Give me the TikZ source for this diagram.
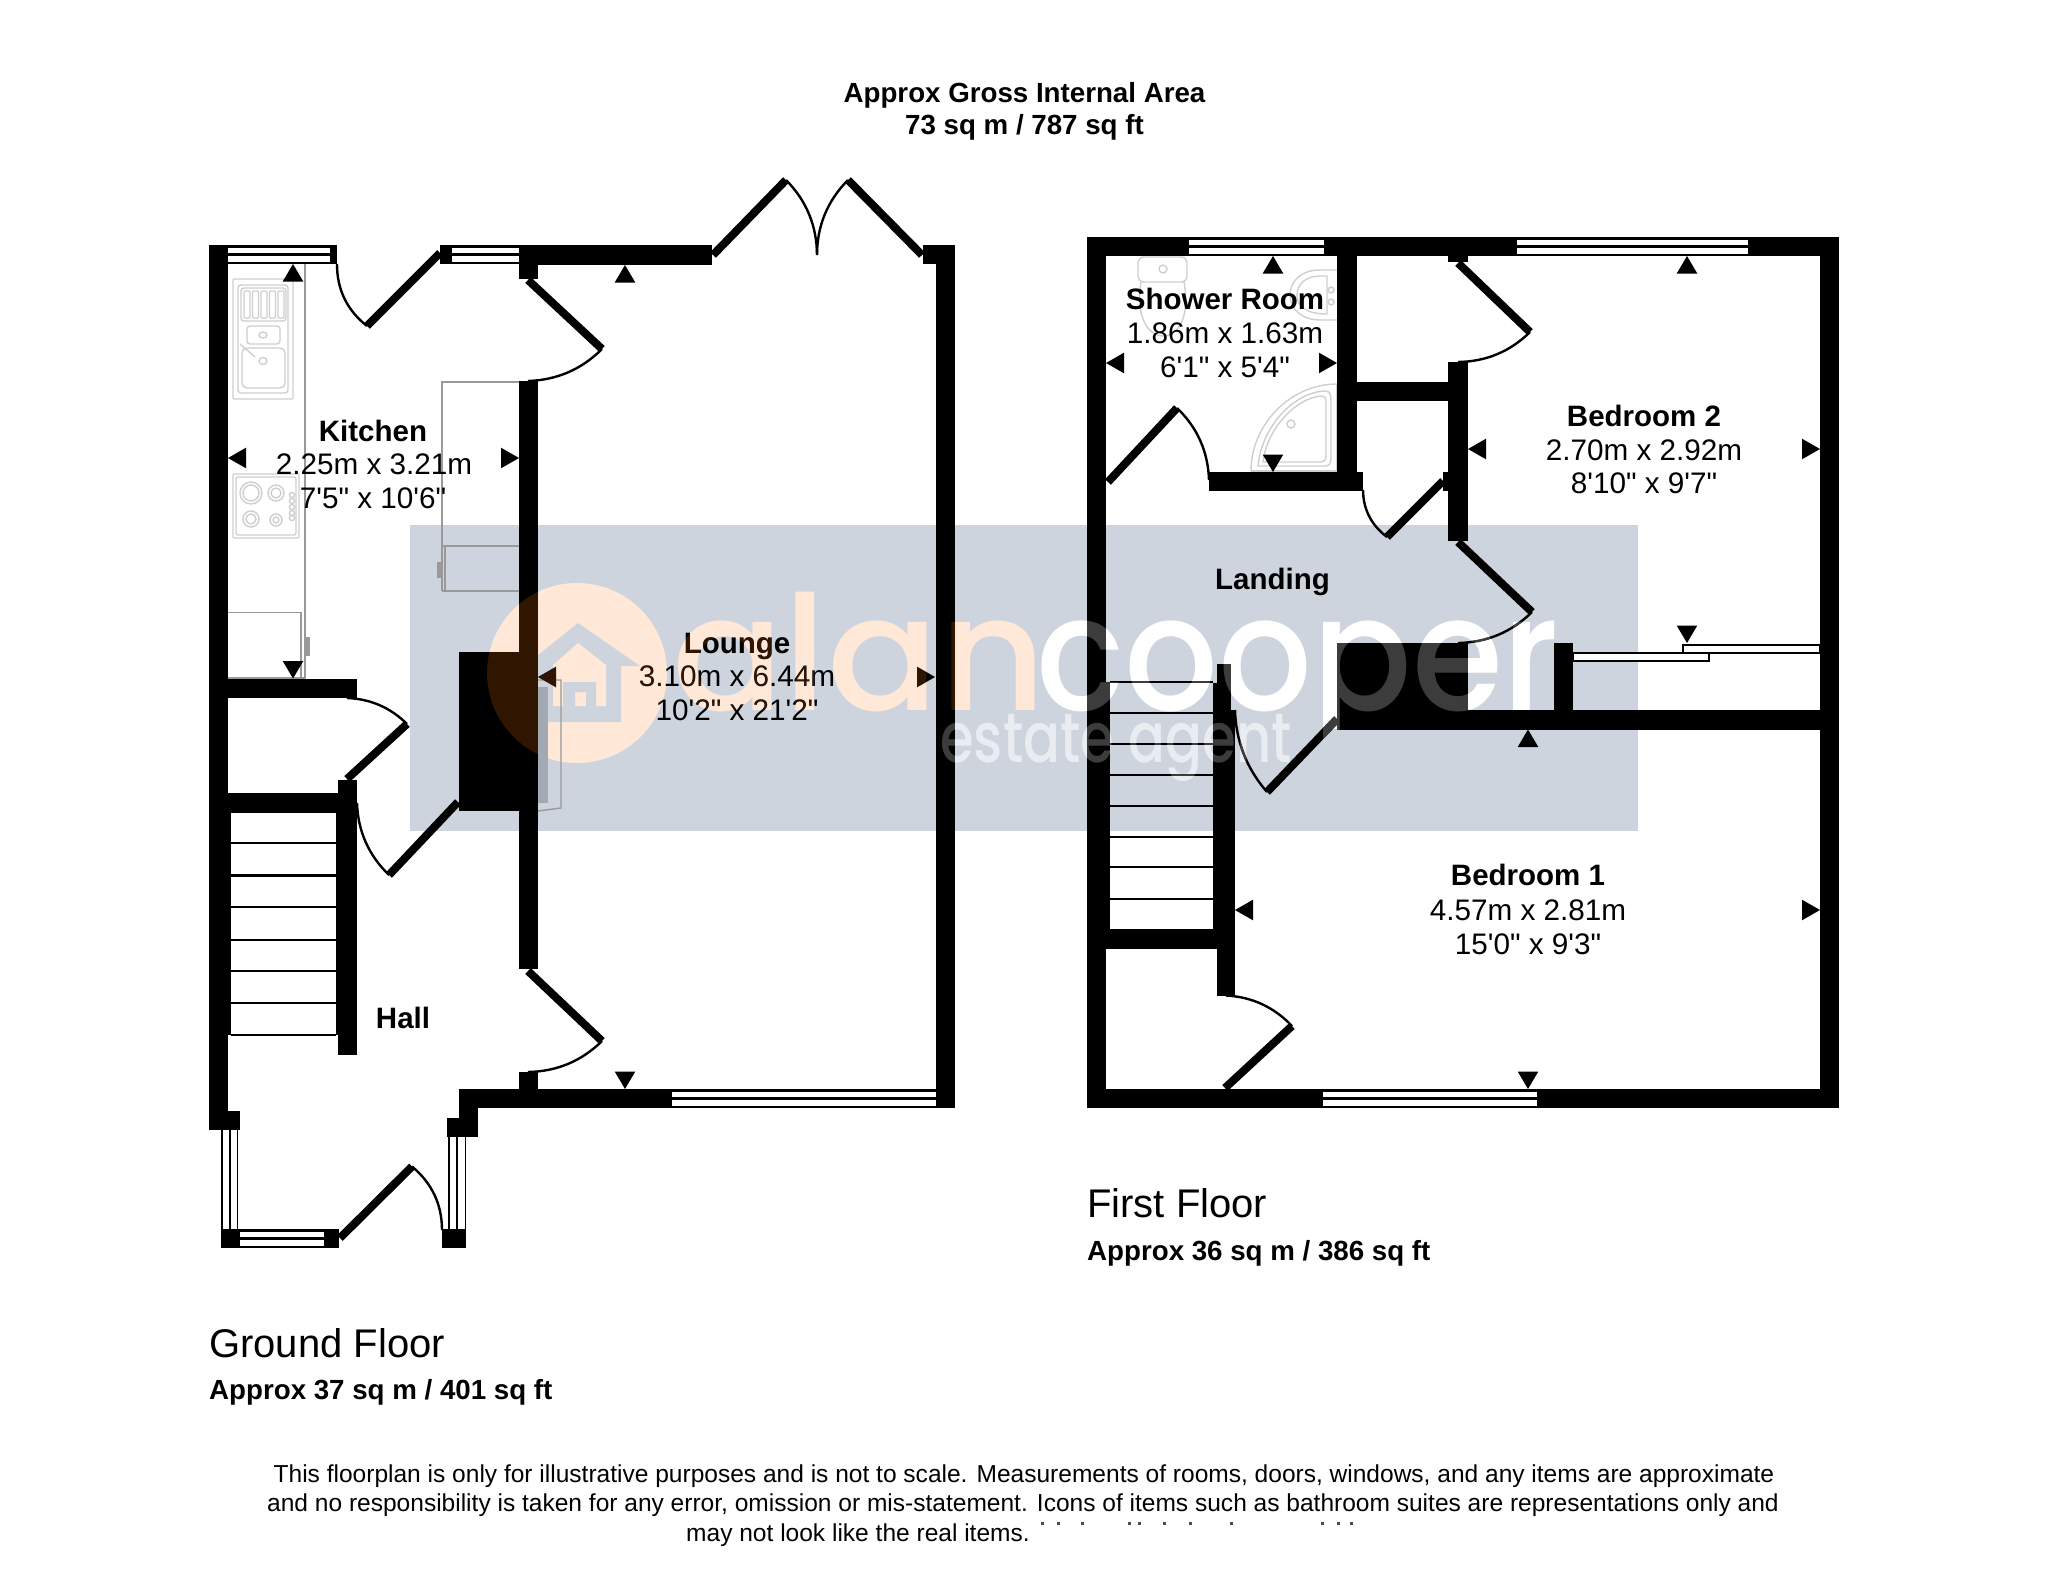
\documentclass[tikz,border=0pt]{standalone}
\usepackage{fontspec}
\usetikzlibrary{calc}
\newfontfamily\lib{Liberation Sans}
\newfontfamily\wmfont{Poppins Medium}
\definecolor{wmblue}{HTML}{CDD4DD}
\definecolor{wmorange}{HTML}{FFE8D7}
\definecolor{wmbrown}{HTML}{301500}
\definecolor{wmgrey}{HTML}{3C3C3C}
\definecolor{fixgrey}{HTML}{999999}
\definecolor{fixlight}{HTML}{CFCFCF}
\definecolor{hearthgrey}{HTML}{A3A9B3}
\tikzset{
  lbl/.style={inner sep=0pt,anchor=base,font=\lib\fontsize{29.7}{34}\selectfont},
  lblb/.style={inner sep=0pt,anchor=base,font=\lib\bfseries\fontsize{29.5}{34}\selectfont},
  floorname/.style={inner sep=0pt,anchor=base west,font=\lib\fontsize{40}{46}\selectfont},
  areab/.style={inner sep=0pt,anchor=base west,font=\lib\bfseries\fontsize{27.7}{32}\selectfont},
  titleb/.style={inner sep=0pt,anchor=base,font=\lib\bfseries\fontsize{27.7}{32}\selectfont},
  foot/.style={inner sep=0pt,anchor=base,font=\lib\fontsize{24.53}{29}\selectfont},
  leaf/.style={line width=8pt,black},
  swing/.style={line width=2.4pt,black},
  fix/.style={line width=1.4pt,fixgrey},
  fixl/.style={line width=1.4pt,fixlight},
  tread/.style={line width=2.2pt,black},
  wmbig/.style={inner sep=0pt,anchor=base west,font=\wmfont\fontsize{160}{170}\selectfont},
  wmsmall/.style={inner sep=0pt,anchor=base west,xscale=0.78,font=\wmfont\fontsize{70}{80}\selectfont}
}
\newcommand\wl[4]{\fill[black] (#1,#2) rectangle (#3,#4);}
\newcommand\hwin[3]{\fill[black] (#1,#3) rectangle (#2,#3+19);
  \fill[white] (#1,#3+2.5) rectangle (#2,#3+8); \fill[white] (#1,#3+10.5) rectangle (#2,#3+17);}
\newcommand\vwin[4]{\fill[black] (#1,#3) rectangle (#2,#4);
  \fill[white] (#1+1.5,#3) rectangle (#1+8,#4); \fill[white] (#1+10,#3) rectangle (#2-1.5,#4);}
\newcommand\doorswing[3]{%
  \coordinate (dsP) at ($(#3)!1.1716!($(#1)!.5!(#2)$)$);
  \draw[swing] (#1) .. controls ($(#1)!.6667!(dsP)$) and ($(#2)!.6667!(dsP)$) .. (#2);
  \draw[leaf] (#3) -- (#2);}
\newcommand\triU[2]{\fill[black] (#1,#2) -- (#1-10.3,#2+17.5) -- (#1+10.3,#2+17.5) -- cycle;}
\newcommand\triD[2]{\fill[black] (#1,#2) -- (#1-10.3,#2-17.5) -- (#1+10.3,#2-17.5) -- cycle;}
\newcommand\triL[2]{\fill[black] (#1,#2) -- (#1+18,#2-10.3) -- (#1+18,#2+10.3) -- cycle;}
\newcommand\triR[2]{\fill[black] (#1,#2) -- (#1-18,#2-10.3) -- (#1-18,#2+10.3) -- cycle;}
\begin{document}
\begin{tikzpicture}[x=1pt,y=-1pt]
\useasboundingbox (0,0) rectangle (2048,1587);
\fill[white] (0,0) rectangle (2048,1587);

% ---- watermark
\fill[wmblue] (410,525) rectangle (1638,831);
\fill[wmorange] (577,673) circle (90);
\node[wmbig,text=wmorange,xscale=1.03] (wmalan) at (672,710) {alan};
\node[wmbig,text=white,xscale=0.92] (wmcooper) at (1036,710) {cooper};
\fill[wmblue] (1295,729) rectangle (1350,770);
\node[wmsmall,text=white!55!wmblue] (wmestate) at (940,762) {estate agent};
% house icon
\fill[wmblue] (578,623) -- (640,666) -- (621,666) -- (621,722) -- (535,722) -- (535,672) -- (517,672) -- cycle;
\fill[wmorange] (578,643) -- (606,665) -- (606,706) -- (553,706) -- (553,665) -- cycle;
\fill[wmblue] (563,682) -- (563,706) -- (575,706) -- (575,692) -- (586,692) -- (586,706) -- (596,706) -- (596,682) -- cycle;

% ---- fixtures: kitchen
\draw[fix] (305,264) -- (305,678) -- (228,678);
\draw[fix] (228,612.5) -- (301,612.5) -- (301,678);
\fill[fixgrey] (304,637) rectangle (310,656);
\draw[fix] (442,591) -- (442,382) -- (519,382);
\draw[fix] (445,546) -- (445,591);
\draw[fix] (442,546) -- (519,546);
\draw[fix] (442,591) -- (519,591);
\fill[fixgrey] (437,562) rectangle (442,578);
\draw[fixl,rounded corners=1pt] (233,279) rectangle (293,399);
\draw[fixl,rounded corners=3pt] (238,285) rectangle (288,393);
\draw[fixl,rounded corners=3pt] (241,288) rectangle (286,321);
\foreach \sx in {244,252.5,261,269.5,278}{\draw[fixl,rounded corners=1pt] (\sx,291) rectangle (\sx+6,318);}
\draw[fixl,rounded corners=3pt] (247,326) rectangle (280,344);
\draw[fixl] (263,335) ellipse (4 and 3);
\draw[fixl,rounded corners=5pt] (242,348) rectangle (285,388);
\draw[fixl] (263,361) ellipse (4 and 3.5);
\draw[fixl] (240,344) -- (255,357);
\draw[fixl,rounded corners=1pt] (233,474) rectangle (299,538);
\draw[fixl,rounded corners=2pt] (236,477) rectangle (296,535);
\foreach \cx/\cy/\cr in {251/493/11,276/493/8,251/519/8,276/520/6}{
  \draw[fixl] (\cx,\cy) circle (\cr); \draw[fixl] (\cx,\cy) circle (\cr-3);}
\foreach \ky in {495,501,507,513,518}{\draw[fixl] (292,\ky) circle (2.6);}
% hearth
\draw[fix] (538,680) -- (561,680) -- (561,808) -- (538,811);
\fill[hearthgrey] (538,687) rectangle (548,803);

% ---- fixtures: shower room
\draw[fixl,rounded corners=6pt] (1138,257) rectangle (1187,282);
\draw[fixl] (1163,269) circle (4);
\draw[fixl] (1141,282) .. controls (1135,320) and (1150,336) .. (1163,336) .. controls (1176,336) and (1191,320) .. (1184,282);
\draw[fixl] (1337,270) -- (1320,270) .. controls (1300,270) and (1290,282) .. (1290,295) .. controls (1290,310) and (1303,320) .. (1320,320) -- (1337,320);
\draw[fixl] (1327,276) -- (1320,276) .. controls (1305,276) and (1297,285) .. (1297,295) .. controls (1297,306) and (1306,314) .. (1327,314) -- cycle;
\draw[fixl] (1331,290) circle (3);\draw[fixl] (1331,302) circle (3);
\draw[fixl] (1251,471) .. controls (1251,425) and (1290,384) .. (1337,384);
\draw[fixl] (1258,466) .. controls (1262,425) and (1295,392) .. (1325,391) .. controls (1330,391) and (1331,395) .. (1331,400) -- (1331,458) .. controls (1331,464) and (1329,466) .. (1325,466) -- cycle;
\draw[fixl] (1263,462) .. controls (1267,428) and (1297,397) .. (1322,396) .. controls (1325,396) and (1326,398) .. (1326,401) -- (1326,456) .. controls (1326,460) and (1324,462) .. (1321,462) -- cycle;
\draw[fixl] (1291,424) circle (4);
\draw[fixl] (1251,471) -- (1337,471) -- (1337,384);

% ---- ground floor walls
\wl{209}{245}{228}{1130}
\wl{209}{1110.5}{240}{1130}
\hwin{228}{330}{245}
\wl{330}{245}{337}{264}
\wl{440}{245}{452}{264}
\hwin{452}{519}{245}
\wl{519}{245}{712}{265}
\wl{519}{264}{538}{279}
\wl{519}{381}{538}{969}
\wl{459}{652}{519}{811}
\wl{228}{679}{357}{698}
\wl{338}{780}{357}{1055}
\wl{228}{793}{338}{813}
\wl{228}{813}{231}{1035}
\wl{336}{813}{339}{1035}
\foreach \ty in {843,875.5,907,940,971,1003,1035}{\draw[tread] (231,\ty) -- (336,\ty);}
\wl{519}{1072}{538}{1089}
\wl{459}{1089}{672}{1108}
\hwin{672}{936}{1089}
\wl{936}{245}{955}{1108}
\wl{923}{245}{955}{264}
\wl{459}{1089}{478}{1118}
\wl{447}{1118}{478}{1137}
\vwin{221}{238}{1130}{1229}
\vwin{448}{466}{1137}{1229}
\wl{221}{1229}{240}{1248}
\hwin{240}{324}{1229}
\wl{324}{1229}{339}{1248}
\wl{442}{1229}{466}{1248}
\doorswing{337,264}{367,326}{440,253}
\doorswing{528,381}{602,349}{528,280}
\doorswing{347,698}{407,724}{347,779}
\doorswing{357,803}{389,875}{458,802}
\doorswing{528,1072}{602,1041}{528,971}
\doorswing{442,1230}{412,1166.5}{340,1238}
\doorswing{817,255}{786,180}{713,255}
\doorswing{817,255}{848,180}{922,255}

% ---- first floor walls
\wl{1087}{237}{1106}{1108}
\wl{1087}{237}{1189}{256}
\hwin{1189}{1324}{237}
\wl{1324}{237}{1517}{256}
\hwin{1517}{1748}{237}
\wl{1748}{237}{1839}{256}
\wl{1820}{237}{1839}{1108}
\wl{1337}{256}{1357}{491}
\wl{1357}{382}{1448}{401}
\wl{1448}{362}{1468}{541}
\wl{1448}{256}{1468}{262}
\wl{1209}{472}{1363}{491}
\wl{1443}{472}{1448}{491}
\wl{1337}{643}{1468}{710}
\wl{1337}{710}{1839}{729.5}
\wl{1554}{643}{1573}{710}
\fill[white,draw=black,line width=2pt] (1573,653) rectangle (1709,661);
\fill[white,draw=black,line width=2pt] (1683,644.5) rectangle (1820,652.7);
\wl{1087}{1089}{1323}{1108}
\hwin{1323}{1537}{1089}
\wl{1537}{1089}{1839}{1108}
\wl{1106}{682}{1110}{929}
\wl{1106}{929}{1213}{949}
\wl{1217}{664}{1231}{710}
\wl{1213}{683}{1231}{710}
\wl{1213}{710}{1235}{949}
\wl{1217}{949}{1235}{995.5}
\foreach \ty in {682,713,744,775,806,837,867,899}{\draw[tread] (1110,\ty) -- (1213,\ty);}
\doorswing{1458,362}{1530,332}{1458,263}
\doorswing{1209,480}{1177,408}{1108,482}
\doorswing{1363,490}{1387,537}{1443,481}
\doorswing{1458,643}{1532,612}{1458,542}
\doorswing{1235,710}{1267,792}{1337,719}
\doorswing{1226,995.5}{1292,1026}{1225,1088}

% ---- measure arrowheads
\triU{293}{264}\triD{293}{678.5}\triL{228}{458}\triR{519}{458}
\triU{625}{265}\triD{625}{1089}\triL{538}{677}\triR{935}{677}
\triU{1273}{256}\triD{1273}{472}\triL{1106}{363}\triR{1337}{363}
\triU{1687}{256}\triD{1687}{643}\triL{1468}{449}\triR{1820}{449}
\triU{1528}{729.5}\triD{1528}{1089}\triL{1235}{910}\triR{1820}{910}

% ---- labels
\node[titleb] (title1) at (1024.5,102) {Approx Gross Internal Area};
\node[titleb] (title2) at (1024.5,134) {73 sq m / 787 sq ft};
\node[lblb] (kit) at (373,441) {Kitchen};
\node[lbl] (kit1) at (374,474) {2.25m x 3.21m};
\node[lbl] (kit2) at (373,508) {7'5" x 10'6"};
\node[lblb] (hall) at (403,1028) {Hall};
\node[lblb] (lng) at (737,653) {Lounge};
\node[lbl] (lng1) at (737,686) {3.10m x 6.44m};
\node[lbl] (lng2) at (737,720.5) {10'2" x 21'2"};
\node[lblb] (sh) at (1225,309) {Shower Room};
\node[lbl] (sh1) at (1225,343) {1.86m x 1.63m};
\node[lbl] (sh2) at (1225,377) {6'1" x 5'4"};
\node[lblb] (land) at (1272.5,589) {Landing};
\node[lblb] (bd2) at (1644,426) {Bedroom 2};
\node[lbl] (bd21) at (1644,460) {2.70m x 2.92m};
\node[lbl] (bd22) at (1644,493) {8'10" x 9'7"};
\node[lblb] (bd1) at (1528,885.5) {Bedroom 1};
\node[lbl] (bd11) at (1528,920) {4.57m x 2.81m};
\node[lbl] (bd12) at (1528,954) {15'0" x 9'3"};
\node[floorname] (gf) at (209,1357) {Ground Floor};
\node[areab] (gfa) at (209,1399) {Approx 37 sq m / 401 sq ft};
\node[floorname] (ff) at (1087,1217) {First Floor};
\node[areab] (ffa) at (1087,1260) {Approx 36 sq m / 386 sq ft};
\node[foot] (ft1) at (1024,1482.5) {This floorplan is only for illustrative purposes and is not to scale. Measurements of rooms, doors, windows, and any items are approximate};
\node[foot] (ft2) at (1023,1511.5) {and no responsibility is taken for any error, omission or mis-statement. Icons of items such as bathroom suites are representations only and};
\node[foot] (ft3) at (858,1541) {may not look like the real items.};
\foreach \sp in {1041,1057,1081,1128,1138,1163,1189,1230,1321,1337,1350}{\fill[black!70] (\sp,1522) rectangle (\sp+2.5,1525);}

% ---- watermark showing faintly over the black
\begin{scope}[blend mode=lighten]
\fill[wmbrown] (577,673) circle (90);
\node[wmbig,text=wmbrown,xscale=1.03] (wmalanb) at (672,710) {alan};
\node[wmbig,text=wmgrey,xscale=0.92] (wmcooperb) at (1036,710) {cooper};
\node[wmsmall,text=wmgrey] (wmestateb) at (940,762) {estate agent};
\end{scope}
\end{tikzpicture}
\end{document}
